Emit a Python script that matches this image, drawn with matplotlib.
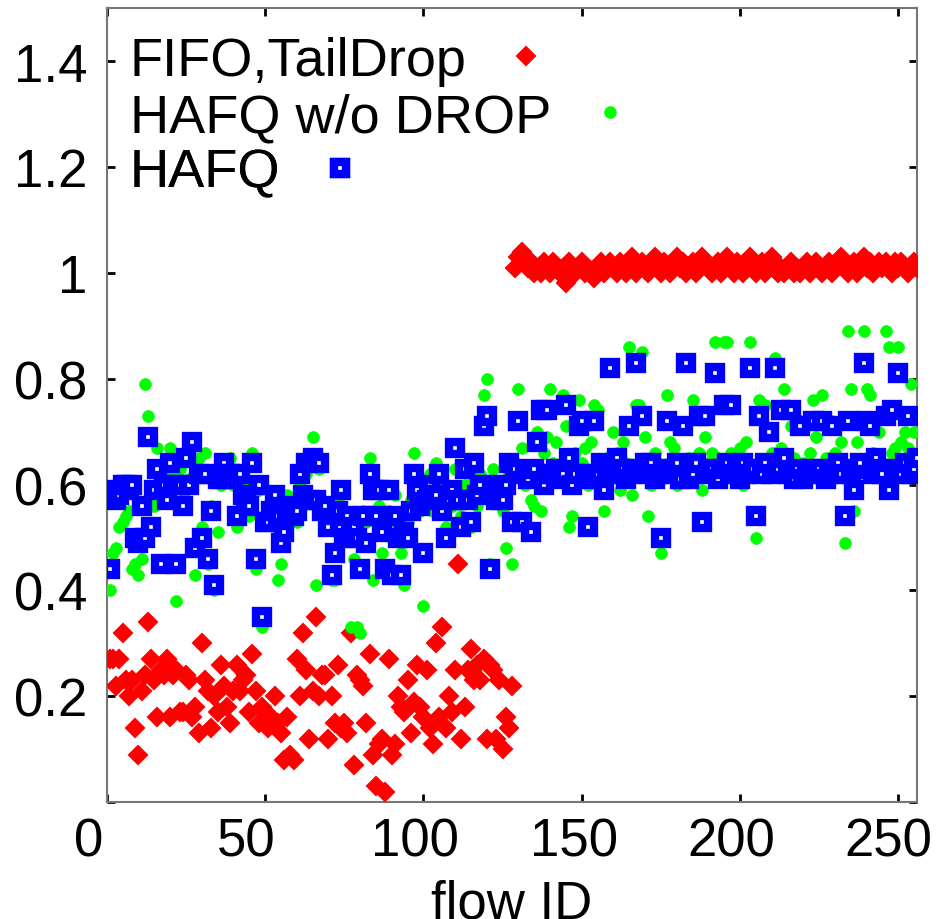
import numpy as np
import matplotlib
matplotlib.use("Agg")
import matplotlib.pyplot as plt
import matplotlib.transforms as mtransforms

plt.rcParams['font.family'] = ['Liberation Sans', 'DejaVu Sans']

# flow IDs 1..256
flow_id = np.arange(1, 257)

# FIFO,TailDrop
fifo = [
    0.27, 0.27, 0.22, 0.27, 0.32, 0.23, 0.20, 0.23, 0.14, 0.09,
    0.21, 0.24, 0.34, 0.27, 0.23, 0.16, 0.25, 0.24, 0.27, 0.16,
    0.24, 0.25, 0.17, 0.17, 0.24, 0.23, 0.16, 0.18, 0.13, 0.30,
    0.23, 0.21, 0.14, 0.20, 0.17, 0.26, 0.22, 0.18, 0.15, 0.21,
    0.26, 0.21, 0.23, 0.24, 0.17, 0.28, 0.21, 0.15, 0.18, 0.17,
    0.14, 0.16, 0.20, 0.15, 0.13, 0.08, 0.16, 0.09, 0.08, 0.27,
    0.20, 0.32, 0.25, 0.12, 0.21, 0.35, 0.20, 0.24, 0.24, 0.12,
    0.20, 0.15, 0.26, 0.14, 0.15, 0.13, 0.32, 0.07, 0.24, 0.23,
    0.22, 0.15, 0.28, 0.09, 0.03, 0.11, 0.12, 0.02, 0.27, 0.09,
    0.11, 0.20, 0.18, 0.17, 0.23, 0.13, 0.19, 0.26, 0.18, 0.16,
    0.25, 0.14, 0.11, 0.30, 0.16, 0.33, 0.14, 0.20, 0.17, 0.25,
    0.45, 0.12, 0.18, 0.25, 0.29, 0.23, 0.26, 0.23, 0.27, 0.12,
    0.26, 0.25, 0.12, 0.23, 0.10, 0.16, 0.14, 0.22,
    1.01, 1.03, 1.04, 1.02, 1.01, 1.02, 1.00, 1.01, 1.00, 1.02,
    1.01, 1.00, 1.02, 1.01, 1.00, 1.01, 0.98, 1.02, 1.01, 1.00,
    1.01, 1.02, 1.00, 1.01, 1.00, 0.99, 1.01, 1.02, 1.00, 1.01,
    1.02, 1.01, 1.00, 1.02, 1.01, 1.00, 1.01, 1.03, 1.00, 1.01,
    1.02, 1.01, 1.00, 1.02, 1.03, 1.01, 1.00, 1.02, 1.01, 1.00,
    1.02, 1.03, 1.01, 1.02, 1.00, 1.01, 1.02, 1.00, 1.01, 1.03,
    1.02, 1.01, 1.00, 1.01, 1.02, 1.00, 1.01, 1.03, 1.01, 1.00,
    1.02, 1.01, 1.00, 1.02, 1.03, 1.01, 1.00, 1.01, 1.02, 1.00,
    1.01, 1.03, 1.01, 1.00, 1.01, 1.00, 1.01, 1.02, 1.00, 1.01,
    1.00, 1.01, 1.02, 1.00, 1.01, 1.02, 1.01, 1.00, 1.01, 1.02,
    1.00, 1.01, 1.02, 1.03, 1.01, 1.00, 1.01, 1.02, 1.00, 1.01,
    1.03, 1.01, 1.02, 1.00, 1.01, 1.02, 1.01, 1.02, 1.01, 1.00,
    1.02, 1.01, 1.02, 1.01, 1.00, 1.01, 1.02, 1.01,
]

# HAFQ w/o DROP
hafq_nodrop = [
    0.40, 0.47, 0.48, 0.52, 0.53, 0.54, 0.55, 0.44, 0.45, 0.43,
    0.46, 0.79, 0.73, 0.57, 0.56, 0.67, 0.58, 0.59, 0.61, 0.67,
    0.62, 0.38, 0.63, 0.59, 0.57, 0.61, 0.64, 0.43, 0.65, 0.52,
    0.66, 0.45, 0.56, 0.40, 0.51, 0.60, 0.63, 0.61, 0.65, 0.60,
    0.52, 0.58, 0.56, 0.60, 0.54, 0.66, 0.44, 0.59, 0.33, 0.53,
    0.56, 0.54, 0.57, 0.42, 0.45, 0.52, 0.58, 0.55, 0.56, 0.53,
    0.60, 0.57, 0.62, 0.58, 0.69, 0.41, 0.63, 0.57, 0.55, 0.52,
    0.42, 0.42, 0.56, 0.58, 0.54, 0.50, 0.33, 0.46, 0.33, 0.32,
    0.55, 0.53, 0.65, 0.42, 0.60, 0.56, 0.47, 0.44, 0.55, 0.50,
    0.58, 0.52, 0.47, 0.41, 0.53, 0.57, 0.66, 0.60, 0.55, 0.37,
    0.58, 0.62, 0.55, 0.64, 0.60, 0.55, 0.52, 0.59, 0.56, 0.63,
    0.57, 0.54, 0.60, 0.58, 0.52, 0.61, 0.56, 0.62, 0.77, 0.80,
    0.45, 0.63, 0.59, 0.60, 0.55, 0.48, 0.62, 0.45,
    0.64, 0.78, 0.67, 0.60, 0.63, 0.57, 0.56, 0.70, 0.55, 0.66,
    0.69, 0.78, 0.64, 0.68, 0.62, 0.77, 0.71, 0.52, 0.54, 0.66,
    0.76, 0.64, 0.67, 0.60, 0.68, 0.75, 0.74, 0.61, 0.55, 0.65,
    0.62, 0.70, 0.66, 0.59, 0.68, 0.64, 0.86, 0.58, 0.75, 0.75,
    0.85, 0.69, 0.54, 0.60, 0.66, 0.64, 0.47, 0.62, 0.77, 0.68,
    0.67, 0.60, 0.63, 0.64, 0.83, 0.65, 0.76, 0.62, 0.66, 0.59,
    0.69, 0.64, 0.66, 0.87, 0.65, 0.62, 0.87, 0.87, 0.66, 0.63,
    0.65, 0.67, 0.60, 0.68, 0.87, 0.62, 0.50, 0.76, 0.64, 0.75,
    0.70, 0.66, 0.84, 0.64, 0.67, 0.78, 0.62, 0.71, 0.65, 0.63,
    0.72, 0.64, 0.61, 0.66, 0.76, 0.69, 0.63, 0.77, 0.65, 0.62,
    0.72, 0.66, 0.63, 0.68, 0.49, 0.89, 0.78, 0.55, 0.68, 0.64,
    0.89, 0.78, 0.77, 0.66, 0.65, 0.70, 0.64, 0.89, 0.86, 0.66,
    0.67, 0.86, 0.68, 0.70, 0.67, 0.79, 0.70, 0.66,
]

# HAFQ
hafq = [
    0.44, 0.59, 0.57, 0.58, 0.60, 0.60, 0.59, 0.60, 0.50, 0.49,
    0.56, 0.50, 0.69, 0.52, 0.59, 0.63, 0.45, 0.60, 0.57, 0.64,
    0.60, 0.45, 0.60, 0.56, 0.65, 0.60, 0.68, 0.48, 0.62, 0.50,
    0.62, 0.46, 0.55, 0.41, 0.61, 0.61, 0.64, 0.62, 0.62, 0.61,
    0.54, 0.62, 0.58, 0.57, 0.56, 0.64, 0.46, 0.60, 0.35, 0.53,
    0.53, 0.55, 0.58, 0.54, 0.49, 0.51, 0.55, 0.56, 0.54, 0.55,
    0.62, 0.58, 0.64, 0.57, 0.65, 0.57, 0.64, 0.55, 0.56, 0.52,
    0.43, 0.47, 0.55, 0.59, 0.50, 0.54, 0.51, 0.52, 0.50, 0.44,
    0.54, 0.49, 0.62, 0.59, 0.54, 0.59, 0.51, 0.44, 0.59, 0.43,
    0.54, 0.50, 0.43, 0.51, 0.50, 0.55, 0.62, 0.59, 0.56, 0.47,
    0.57, 0.60, 0.58, 0.58, 0.62, 0.55, 0.50, 0.57, 0.59, 0.67,
    0.57, 0.52, 0.63, 0.57, 0.53, 0.64, 0.58, 0.60, 0.71, 0.73,
    0.44, 0.60, 0.57, 0.59, 0.57, 0.60, 0.64, 0.53,
    0.63, 0.72, 0.53, 0.62, 0.61, 0.51, 0.63, 0.68, 0.74, 0.60,
    0.74, 0.62, 0.62, 0.63, 0.61, 0.62, 0.75, 0.65, 0.60, 0.62,
    0.71, 0.72, 0.62, 0.52, 0.61, 0.72, 0.62, 0.64, 0.59, 0.63,
    0.82, 0.62, 0.65, 0.62, 0.63, 0.61, 0.71, 0.62, 0.83, 0.63,
    0.73, 0.64, 0.62, 0.64, 0.61, 0.62, 0.50, 0.63, 0.72, 0.62,
    0.63, 0.64, 0.61, 0.71, 0.83, 0.61, 0.62, 0.64, 0.73, 0.53,
    0.73, 0.62, 0.63, 0.81, 0.61, 0.63, 0.75, 0.64, 0.75, 0.62,
    0.63, 0.61, 0.64, 0.62, 0.82, 0.63, 0.54, 0.73, 0.62, 0.64,
    0.70, 0.62, 0.82, 0.63, 0.74, 0.65, 0.62, 0.74, 0.61, 0.63,
    0.71, 0.61, 0.62, 0.63, 0.72, 0.62, 0.63, 0.72, 0.61, 0.62,
    0.71, 0.63, 0.64, 0.62, 0.54, 0.72, 0.62, 0.59, 0.63, 0.64,
    0.83, 0.72, 0.71, 0.62, 0.65, 0.63, 0.62, 0.73, 0.59, 0.74,
    0.63, 0.81, 0.62, 0.64, 0.73, 0.62, 0.63, 0.65,
]

labels = ["FIFO,TailDrop", "HAFQ w/o DROP", "HAFQ"]
xticks = [0, 50, 100, 150, 200, 250]
yticks = [0, 0.2, 0.4, 0.6, 0.8, 1.0, 1.2, 1.4]
ytick_labels = ["", "0.2", "0.4", "0.6", "0.8", "1", "1.2", "1.4"]

fig = plt.figure(figsize=(9.37, 9.2), dpi=100)
ax = fig.add_axes([0.114, 0.127, 0.865, 0.863])

h_red, = ax.plot(flow_id, fifo, linestyle='none', marker='D', ms=9,
                 mfc='#ff0000', mec='#ff0000', mew=1.5, zorder=3)
h_green, = ax.plot(flow_id, hafq_nodrop, linestyle='none', marker='o', ms=8.5,
                   mfc='#00ff00', mec='#00ff00', mew=0.5, zorder=4)
h_blue, = ax.plot(flow_id, hafq, linestyle='none', marker='s', ms=9,
                  mfc='white', mec='#0000ff', mew=6, zorder=5)

ax.set_xlim(0, 256)
ax.set_ylim(0, 1.5)
ax.set_xticks(xticks)
ax.set_yticks(yticks)
ax.set_yticklabels(ytick_labels)
ax.tick_params(direction='in', length=6, width=2, labelsize=38,
               top=True, right=True)
ax.tick_params(axis='y', pad=14)
ax.tick_params(axis='x', pad=10)
for s in ax.spines.values():
    s.set_color('#777777')
    s.set_linewidth(1.5)

# gnuplot puts the x labels a bit left of their ticks
shifts = [-18, -19, -8, -8, -9, -10]
for lab, dx in zip(ax.get_xticklabels(), shifts):
    lab.set_transform(lab.get_transform() +
                      mtransforms.ScaledTranslation(dx / 100, 0, fig.dpi_scale_trans))

ax.set_xlabel("flow ID", fontsize=38, labelpad=9)

# gnuplot style key: text first, then sample right after it
rows = [(h_red, labels[0], 0.965), (h_green, labels[1], 0.894), (h_blue, labels[2], 0.824)]
for h, lab, ypos in rows:
    leg = ax.legend([h], [lab], loc='upper left', bbox_to_anchor=(0.028, ypos),
                    frameon=False, markerfirst=False, fontsize=39,
                    handlelength=1.4, handletextpad=0.4, borderpad=0,
                    borderaxespad=0, numpoints=1)
    ax.add_artist(leg)

fig.savefig("out.png", dpi=100)
